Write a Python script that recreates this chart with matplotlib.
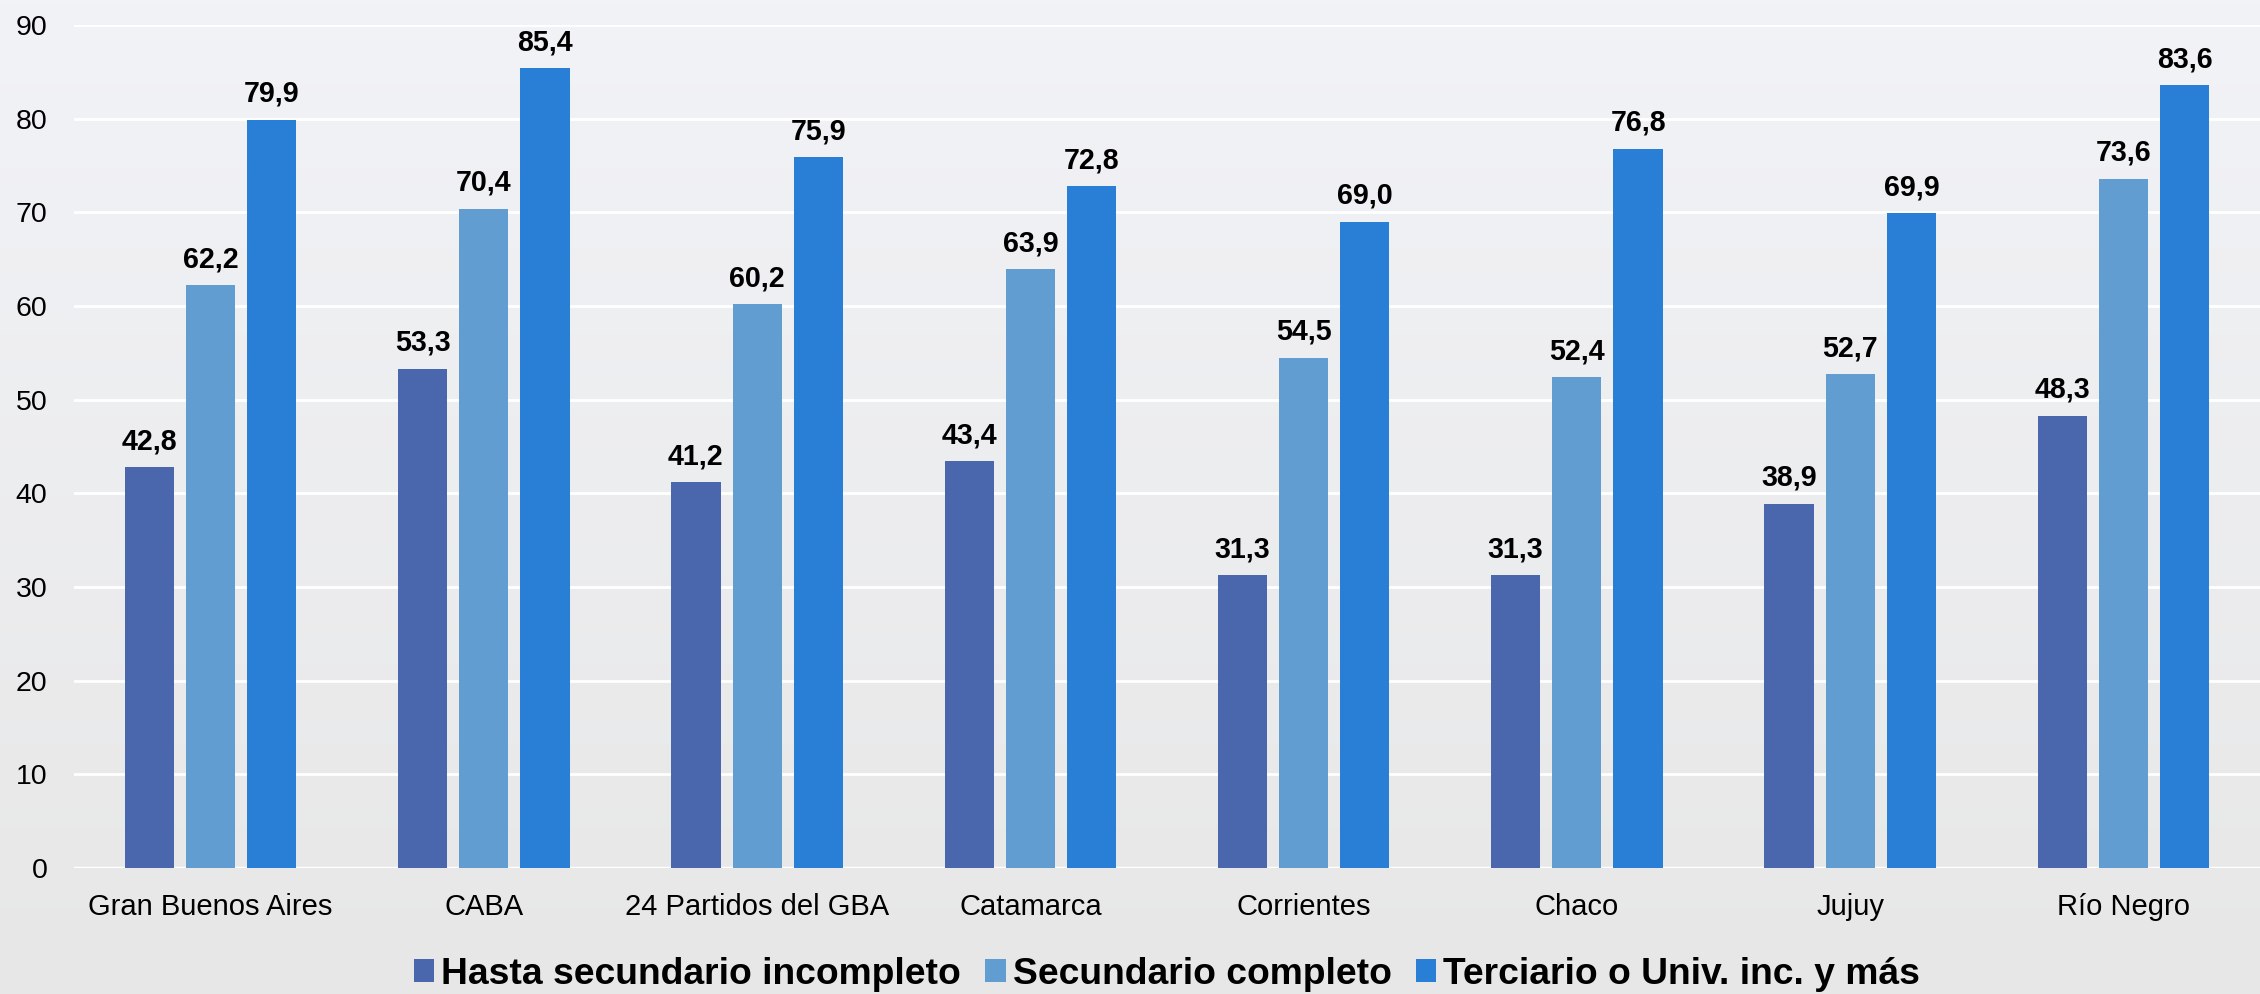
import numpy as np
import matplotlib
matplotlib.use("Agg")
import matplotlib.pyplot as plt
from matplotlib.patches import Patch

categories = ["Gran Buenos Aires", "CABA", "24 Partidos del GBA", "Catamarca",
              "Corrientes", "Chaco", "Jujuy", "Río Negro"]
series_names = ["Hasta secundario incompleto", "Secundario completo",
                "Terciario o Univ. inc. y más"]
hasta_sec_inc = [42.8, 53.3, 41.2, 43.4, 31.3, 31.3, 38.9, 48.3]
sec_completo = [62.2, 70.4, 60.2, 63.9, 54.5, 52.4, 52.7, 73.6]
terciario = [79.9, 85.4, 75.9, 72.8, 69.0, 76.8, 69.9, 83.6]
yticks = [0, 10, 20, 30, 40, 50, 60, 70, 80, 90]

colors = ["#4A66AC", "#629DD1", "#297FD5"]

plt.rcParams['font.family'] = ['Liberation Sans', 'DejaVu Sans']

fig = plt.figure(figsize=(22.6, 9.94), dpi=100)

# gradient background
bg = fig.add_axes([0, 0, 1, 1], zorder=-10)
grad = np.linspace(0, 1, 256).reshape(-1, 1)
top = np.array([0xF2, 0xF3, 0xF7]) / 255
bot = np.array([0xE7, 0xE7, 0xE7]) / 255
img = top[None, None, :] * (1 - grad[:, :, None]) + bot[None, None, :] * grad[:, :, None]
bg.imshow(img, aspect='auto', extent=[0, 1, 0, 1])
bg.set_axis_off()

ax = fig.add_axes([74 / 2260, (994 - 868) / 994, 1 - 74 / 2260, (868 - 25) / 994])
ax.set_facecolor('none')

x = np.arange(len(categories))
width = 0.18
offset = 0.224
all_series = [hasta_sec_inc, sec_completo, terciario]
for i, (vals, c) in enumerate(zip(all_series, colors)):
    bars = ax.bar(x + (i - 1) * offset, vals, width, color=c, zorder=3,
                  label=series_names[i])
    for b, v in zip(bars, vals):
        ax.annotate(f"{v:.1f}".replace('.', ','),
                    (b.get_x() + b.get_width() / 2, v),
                    xytext=(0, 8.5), textcoords='offset points',
                    ha='center', va='bottom', fontsize=20.6, fontweight='bold',
                    color='black', zorder=4)

ax.set_xlim(-0.5, len(categories) - 0.5)
ax.set_ylim(0, 90)
ax.set_yticks(yticks)
ax.set_yticklabels([str(t) for t in yticks])
ax.set_xticks(x)
ax.set_xticklabels(categories)
ax.tick_params(axis='y', length=0, pad=19, labelsize=20.5)
ax.tick_params(axis='x', length=0, pad=18, labelsize=21)
ax.grid(axis='y', color='white', linewidth=2, zorder=1)
for s in ax.spines.values():
    s.set_visible(False)
ax.axhline(0, color='white', linewidth=2.5, zorder=2)

handles = [Patch(facecolor=c, edgecolor='none') for c in colors]
leg = fig.legend(handles, series_names, loc='center',
                 bbox_to_anchor=((74 / 2260 + 1) / 2, 20 / 994),
                 ncol=3, frameon=False, prop={'weight': 'bold', 'size': 26.8},
                 handlelength=0.55, handleheight=0.55, handletextpad=0.18,
                 columnspacing=0.66, borderpad=0)

fig.savefig("out.png", dpi=100)
